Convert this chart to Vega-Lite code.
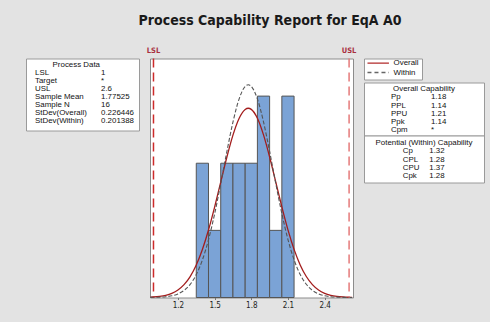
{
  "$schema": "https://vega.github.io/schema/vega-lite/v6.json",
  "background": "#e3e3e3",
  "padding": {"left": 25, "right": 7, "top": 13.5, "bottom": 12.5},
  "title": {
    "text": "Process Capability Report for EqA A0",
    "font": "Liberation Sans Narrow, DejaVu Sans Condensed, Roboto",
    "fontSize": 14,
    "fontWeight": "bold",
    "color": "#1a1a1a",
    "anchor": "middle",
    "dx": 15,
    "offset": 18
  },
  "config": {
    "font": "Liberation Sans Narrow, DejaVu Sans Condensed, Roboto",
    "view": {"stroke": null},
    "text": {"fontSize": 7.9, "color": "#111111", "font": "Liberation Sans"}
  },
  "datasets": {
    "bins": [
      {"bin_start": 1.35, "bin_end": 1.45, "count": 2},
      {"bin_start": 1.45, "bin_end": 1.55, "count": 1},
      {"bin_start": 1.55, "bin_end": 1.65, "count": 2},
      {"bin_start": 1.65, "bin_end": 1.75, "count": 2},
      {"bin_start": 1.75, "bin_end": 1.85, "count": 2},
      {"bin_start": 1.85, "bin_end": 1.95, "count": 3},
      {"bin_start": 1.95, "bin_end": 2.05, "count": 1},
      {"bin_start": 2.05, "bin_end": 2.15, "count": 3}
    ],
    "curves": [
      {"curve": "Overall", "x": 0.975, "density": 0.00547},
      {"curve": "Overall", "x": 1.0, "density": 0.00804},
      {"curve": "Overall", "x": 1.05, "density": 0.01671},
      {"curve": "Overall", "x": 1.1, "density": 0.03306},
      {"curve": "Overall", "x": 1.15, "density": 0.06231},
      {"curve": "Overall", "x": 1.2, "density": 0.11188},
      {"curve": "Overall", "x": 1.25, "density": 0.19132},
      {"curve": "Overall", "x": 1.3, "density": 0.31164},
      {"curve": "Overall", "x": 1.35, "density": 0.48342},
      {"curve": "Overall", "x": 1.4, "density": 0.71413},
      {"curve": "Overall", "x": 1.45, "density": 1.00482},
      {"curve": "Overall", "x": 1.5, "density": 1.34656},
      {"curve": "Overall", "x": 1.55, "density": 1.7187},
      {"curve": "Overall", "x": 1.6, "density": 2.08933},
      {"curve": "Overall", "x": 1.65, "density": 2.4189},
      {"curve": "Overall", "x": 1.7, "density": 2.66738},
      {"curve": "Overall", "x": 1.75, "density": 2.80133},
      {"curve": "Overall", "x": 1.775, "density": 2.8188},
      {"curve": "Overall", "x": 1.8, "density": 2.802},
      {"curve": "Overall", "x": 1.85, "density": 2.66933},
      {"curve": "Overall", "x": 1.9, "density": 2.42192},
      {"curve": "Overall", "x": 1.95, "density": 2.09291},
      {"curve": "Overall", "x": 2.0, "density": 1.72249},
      {"curve": "Overall", "x": 2.05, "density": 1.35024},
      {"curve": "Overall", "x": 2.1, "density": 1.00798},
      {"curve": "Overall", "x": 2.15, "density": 0.7167},
      {"curve": "Overall", "x": 2.2, "density": 0.48544},
      {"curve": "Overall", "x": 2.25, "density": 0.31308},
      {"curve": "Overall", "x": 2.3, "density": 0.19227},
      {"curve": "Overall", "x": 2.35, "density": 0.11251},
      {"curve": "Overall", "x": 2.4, "density": 0.06269},
      {"curve": "Overall", "x": 2.45, "density": 0.03328},
      {"curve": "Overall", "x": 2.5, "density": 0.01682},
      {"curve": "Overall", "x": 2.55, "density": 0.0081},
      {"curve": "Overall", "x": 2.6, "density": 0.00371},
      {"curve": "Overall", "x": 2.625, "density": 0.00247},
      {"curve": "Within", "x": 0.975, "density": 0.00118},
      {"curve": "Within", "x": 1.0, "density": 0.00192},
      {"curve": "Within", "x": 1.05, "density": 0.00484},
      {"curve": "Within", "x": 1.1, "density": 0.01147},
      {"curve": "Within", "x": 1.15, "density": 0.02558},
      {"curve": "Within", "x": 1.2, "density": 0.05361},
      {"curve": "Within", "x": 1.25, "density": 0.10564},
      {"curve": "Within", "x": 1.3, "density": 0.19576},
      {"curve": "Within", "x": 1.35, "density": 0.34102},
      {"curve": "Within", "x": 1.4, "density": 0.55854},
      {"curve": "Within", "x": 1.45, "density": 0.8602},
      {"curve": "Within", "x": 1.5, "density": 1.2456},
      {"curve": "Within", "x": 1.55, "density": 1.69567},
      {"curve": "Within", "x": 1.6, "density": 2.1706},
      {"curve": "Within", "x": 1.65, "density": 2.61217},
      {"curve": "Within", "x": 1.7, "density": 2.95578},
      {"curve": "Within", "x": 1.75, "density": 3.14469},
      {"curve": "Within", "x": 1.775, "density": 3.1695},
      {"curve": "Within", "x": 1.8, "density": 3.14567},
      {"curve": "Within", "x": 1.85, "density": 2.95855},
      {"curve": "Within", "x": 1.9, "density": 2.61617},
      {"curve": "Within", "x": 1.95, "density": 2.1751},
      {"curve": "Within", "x": 2.0, "density": 1.70029},
      {"curve": "Within", "x": 2.05, "density": 1.24979},
      {"curve": "Within", "x": 2.1, "density": 0.86366},
      {"curve": "Within", "x": 2.15, "density": 0.56114},
      {"curve": "Within", "x": 2.2, "density": 0.34281},
      {"curve": "Within", "x": 2.25, "density": 0.1969},
      {"curve": "Within", "x": 2.3, "density": 0.10634},
      {"curve": "Within", "x": 2.35, "density": 0.05399},
      {"curve": "Within", "x": 2.4, "density": 0.02578},
      {"curve": "Within", "x": 2.45, "density": 0.01157},
      {"curve": "Within", "x": 2.5, "density": 0.00488},
      {"curve": "Within", "x": 2.55, "density": 0.00194},
      {"curve": "Within", "x": 2.6, "density": 0.00072},
      {"curve": "Within", "x": 2.625, "density": 0.00043}
    ],
    "limits": [
      {"limit": "LSL", "value": 1.0},
      {"limit": "USL", "value": 2.6}
    ],
    "processData": [
      {"row": 0, "label": "Process Data", "value": ""},
      {"row": 1, "label": "LSL", "value": "1"},
      {"row": 2, "label": "Target", "value": "*"},
      {"row": 3, "label": "USL", "value": "2.6"},
      {"row": 4, "label": "Sample Mean", "value": "1.77525"},
      {"row": 5, "label": "Sample N", "value": "16"},
      {"row": 6, "label": "StDev(Overall)", "value": "0.226446"},
      {"row": 7, "label": "StDev(Within)", "value": "0.201388"}
    ],
    "overallCap": [
      {"row": 0, "label": "Overall Capability", "value": ""},
      {"row": 1, "label": "Pp", "value": "1.18"},
      {"row": 2, "label": "PPL", "value": "1.14"},
      {"row": 3, "label": "PPU", "value": "1.21"},
      {"row": 4, "label": "Ppk", "value": "1.14"},
      {"row": 5, "label": "Cpm", "value": "*"}
    ],
    "withinCap": [
      {"row": 0, "label": "Potential (Within) Capability", "value": ""},
      {"row": 1, "label": "Cp", "value": "1.32"},
      {"row": 2, "label": "CPL", "value": "1.28"},
      {"row": 3, "label": "CPU", "value": "1.37"},
      {"row": 4, "label": "Cpk", "value": "1.28"}
    ],
    "legendItems": [
      {"curve": "Overall"},
      {"curve": "Within"}
    ]
  },
  "spacing": 11,
  "bounds": "flush",
  "hconcat": [
    {
      "width": 113,
      "height": 72,
      "view": {"fill": "white", "stroke": "#9a9a9a", "strokeWidth": 1},
      "data": {"name": "processData"},
      "encoding": {
        "y": {"field": "row", "type": "quantitative", "scale": {"domain": [-0.75, 8.25], "reverse": true}, "axis": null}
      },
      "layer": [
        {
          "transform": [{"filter": "datum.row == 0"}],
          "mark": {"type": "text", "align": "center"},
          "encoding": {
            "x": {"datum": 0.445, "type": "quantitative", "scale": {"domain": [0, 1]}, "axis": null},
            "text": {"field": "label"}
          }
        },
        {
          "transform": [{"filter": "datum.row > 0"}],
          "mark": {"type": "text", "align": "left"},
          "encoding": {
            "x": {"datum": 0.08, "type": "quantitative", "scale": {"domain": [0, 1]}, "axis": null},
            "text": {"field": "label"}
          }
        },
        {
          "transform": [{"filter": "datum.row > 0"}],
          "mark": {"type": "text", "align": "left"},
          "encoding": {
            "x": {"datum": 0.664, "type": "quantitative", "scale": {"domain": [0, 1]}, "axis": null},
            "text": {"field": "value"}
          }
        }
      ]
    },
    {
      "width": 203,
      "height": 239,
      "view": {"fill": "white", "stroke": "#8c8c8c", "strokeWidth": 1},
      "layer": [
        {
          "data": {"name": "bins"},
          "mark": {"type": "rect", "fill": "#7ba3d6", "stroke": "#555555", "strokeWidth": 1},
          "encoding": {
            "x": {
              "field": "bin_start", "type": "quantitative",
              "scale": {"domain": [0.9715, 2.632], "nice": false, "zero": false},
              "axis": {
                "values": [1.2, 1.5, 1.8, 2.1, 2.4], "format": ".1f", "title": null,
                "domain": false, "grid": false, "tickSize": 2, "tickColor": "#777777",
                "labelFontSize": 8, "labelColor": "#222222", "labelPadding": 2
              }
            },
            "x2": {"field": "bin_end"},
            "y": {"field": "count", "type": "quantitative", "scale": {"domain": [0, 3.56], "nice": false}, "axis": null},
            "y2": {"datum": 0}
          }
        },
        {
          "data": {"name": "curves"},
          "transform": [{"filter": "datum.curve == 'Overall'"}],
          "mark": {"type": "line", "color": "#a31d1d", "strokeWidth": 1.3, "interpolate": "monotone"},
          "encoding": {
            "x": {"field": "x", "type": "quantitative", "scale": {"domain": [0.9715, 2.632], "nice": false, "zero": false}},
            "y": {"field": "density", "type": "quantitative", "scale": {"domain": [0, 3.56], "nice": false}}
          }
        },
        {
          "data": {"name": "curves"},
          "transform": [{"filter": "datum.curve == 'Within'"}],
          "mark": {"type": "line", "color": "#555555", "strokeWidth": 1.1, "strokeDash": [4, 2], "interpolate": "monotone"},
          "encoding": {
            "x": {"field": "x", "type": "quantitative", "scale": {"domain": [0.9715, 2.632], "nice": false, "zero": false}},
            "y": {"field": "density", "type": "quantitative", "scale": {"domain": [0, 3.56], "nice": false}}
          }
        },
        {
          "data": {"name": "limits"},
          "transform": [{"filter": "datum.limit == 'LSL'"}],
          "mark": {"type": "rule", "color": "#cc2b2b", "strokeWidth": 1.5, "strokeDash": [9, 5]},
          "encoding": {
            "x": {"field": "value", "type": "quantitative", "scale": {"domain": [0.9715, 2.632], "nice": false, "zero": false}}
          }
        },
        {
          "data": {"name": "limits"},
          "transform": [{"filter": "datum.limit == 'USL'"}],
          "mark": {"type": "rule", "color": "#e57a7a", "strokeWidth": 1.5, "strokeDash": [9, 5]},
          "encoding": {
            "x": {"field": "value", "type": "quantitative", "scale": {"domain": [0.9715, 2.632], "nice": false, "zero": false}}
          }
        },
        {
          "data": {"name": "limits"},
          "mark": {"type": "text", "color": "#a8303f", "fontWeight": "bold", "fontSize": 7.5, "font": "Liberation Sans Narrow, DejaVu Sans Condensed, Roboto", "baseline": "bottom", "dy": -4},
          "encoding": {
            "x": {"field": "value", "type": "quantitative", "scale": {"domain": [0.9715, 2.632], "nice": false, "zero": false}},
            "y": {"value": 0},
            "text": {"field": "limit"}
          }
        }
      ]
    },
    {
      "spacing": 3,
      "bounds": "flush",
      "vconcat": [
        {
          "width": 58,
          "height": 21,
          "view": {"fill": "white", "stroke": "#9a9a9a", "strokeWidth": 1},
          "data": {"name": "legendItems"},
          "encoding": {
            "y": {"field": "curve", "type": "nominal", "scale": {"type": "point", "domain": ["Overall", "Within"], "range": [4.6, 14], "padding": 0}, "axis": null}
          },
          "layer": [
            {
              "mark": {"type": "rule", "strokeWidth": 1.3},
              "encoding": {
                "x": {"datum": 0.06, "type": "quantitative", "scale": {"domain": [0, 1]}, "axis": null},
                "x2": {"datum": 0.43},
                "color": {"field": "curve", "type": "nominal", "scale": {"domain": ["Overall", "Within"], "range": ["#b22a2a", "#666666"]}, "legend": null},
                "strokeDash": {"field": "curve", "type": "nominal", "scale": {"domain": ["Overall", "Within"], "range": [[1, 0], [4, 3]]}, "legend": null}
              }
            },
            {
              "mark": {"type": "text", "align": "left"},
              "encoding": {
                "x": {"datum": 0.51, "type": "quantitative", "scale": {"domain": [0, 1]}, "axis": null},
                "text": {"field": "curve"}
              }
            }
          ]
        },
        {
          "spacing": 0,
          "bounds": "flush",
          "vconcat": [
            {
              "width": 120,
              "height": 53,
              "view": {"fill": "white", "stroke": "#9a9a9a", "strokeWidth": 1},
              "data": {"name": "overallCap"},
              "encoding": {
                "y": {"field": "row", "type": "quantitative", "scale": {"domain": [-0.771, 5.614], "reverse": true}, "axis": null}
              },
              "layer": [
                {
                  "transform": [{"filter": "datum.row == 0"}],
                  "mark": {"type": "text", "align": "center"},
                  "encoding": {
                    "x": {"datum": 0.5, "type": "quantitative", "scale": {"domain": [0, 1]}, "axis": null},
                    "text": {"field": "label"}
                  }
                },
                {
                  "transform": [{"filter": "datum.row > 0"}],
                  "mark": {"type": "text", "align": "left"},
                  "encoding": {
                    "x": {"datum": 0.225, "type": "quantitative", "scale": {"domain": [0, 1]}, "axis": null},
                    "text": {"field": "label"}
                  }
                },
                {
                  "transform": [{"filter": "datum.row > 0"}],
                  "mark": {"type": "text", "align": "left"},
                  "encoding": {
                    "x": {"datum": 0.558, "type": "quantitative", "scale": {"domain": [0, 1]}, "axis": null},
                    "text": {"field": "value"}
                  }
                }
              ]
            },
            {
              "width": 120,
              "height": 47,
              "view": {"fill": "white", "stroke": "#9a9a9a", "strokeWidth": 1},
              "data": {"name": "withinCap"},
              "encoding": {
                "y": {"field": "row", "type": "quantitative", "scale": {"domain": [-0.892, 4.771], "reverse": true}, "axis": null}
              },
              "layer": [
                {
                  "transform": [{"filter": "datum.row == 0"}],
                  "mark": {"type": "text", "align": "center"},
                  "encoding": {
                    "x": {"datum": 0.5, "type": "quantitative", "scale": {"domain": [0, 1]}, "axis": null},
                    "text": {"field": "label"}
                  }
                },
                {
                  "transform": [{"filter": "datum.row > 0"}],
                  "mark": {"type": "text", "align": "left"},
                  "encoding": {
                    "x": {"datum": 0.3225, "type": "quantitative", "scale": {"domain": [0, 1]}, "axis": null},
                    "text": {"field": "label"}
                  }
                },
                {
                  "transform": [{"filter": "datum.row > 0"}],
                  "mark": {"type": "text", "align": "left"},
                  "encoding": {
                    "x": {"datum": 0.544, "type": "quantitative", "scale": {"domain": [0, 1]}, "axis": null},
                    "text": {"field": "value"}
                  }
                }
              ]
            }
          ]
        }
      ]
    }
  ]
}
